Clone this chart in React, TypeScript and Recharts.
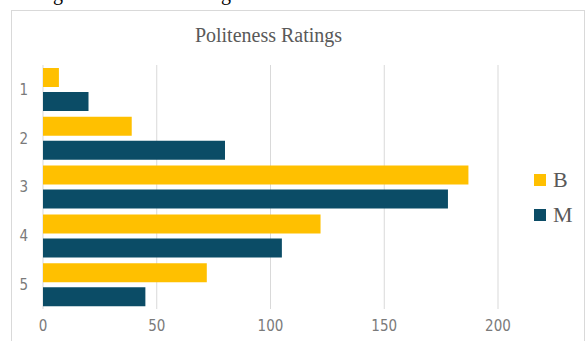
import React from "react";
import { Bar, BarChart, CartesianGrid, XAxis, YAxis } from "recharts";

const ratings = ["1", "2", "3", "4", "5"];
const bValues = [7, 39, 187, 122, 72];
const mValues = [20, 80, 178, 105, 45];
const xTicks = [0, 50, 100, 150, 200];

const series = [
  { key: "B", color: "#FFC000" },
  { key: "M", color: "#0B4C66" },
];

const data = ratings.map((r, i) => ({ rating: r, B: bValues[i], M: mValues[i] }));

const tickFont = "'Liberation Sans Narrow', 'DejaVu Sans Condensed', Roboto, sans-serif";
const serif = "'Liberation Serif', 'DejaVu Serif', serif";

export default function App() {
  return (
    <div
      style={{
        position: "fixed",
        left: 0,
        top: 0,
        width: 585,
        height: 341,
        overflow: "hidden",
        background: "#fff",
      }}
    >
      {/* tail of the paragraph line above the figure */}
      <div style={{ position: "absolute", top: -18, left: 53, fontFamily: serif, fontSize: 20, color: "#000" }}>g</div>
      <div style={{ position: "absolute", top: -18, left: 221, fontFamily: serif, fontSize: 20, color: "#000" }}>g</div>

      <div
        style={{
          position: "absolute",
          left: 11,
          top: 10,
          width: 572,
          height: 340,
          border: "1px solid #d9d9d9",
        }}
      />
      <div
        style={{
          position: "absolute",
          left: 0,
          width: 537,
          top: 24,
          textAlign: "center",
          fontFamily: serif,
          fontSize: 20,
          color: "#595959",
        }}
      >
        Politeness Ratings
      </div>

      <div style={{ position: "absolute", left: 0, top: 0 }}>
        <BarChart
          width={585}
          height={341}
          data={data}
          layout="vertical"
          margin={{ top: 65, right: 87, bottom: 2, left: 0 }}
          barCategoryGap={3}
          barGap={5}
        >
          <CartesianGrid horizontal={false} stroke="#d9d9d9" />
          <XAxis
            type="number"
            domain={[0, 200]}
            ticks={xTicks}
            axisLine={false}
            tickLine={false}
            tickSize={0}
            tickMargin={11}
            height={30}
            tick={{ fill: "#7a7a7a", fontSize: 15, fontFamily: tickFont }}
          />
          <YAxis
            type="category"
            dataKey="rating"
            width={43}
            axisLine={false}
            tickLine={false}
            tickSize={0}
            tickMargin={15}
            tick={{ fill: "#7a7a7a", fontSize: 15, fontFamily: tickFont }}
          />
          {series.map((s) => (
            <Bar key={s.key} dataKey={s.key} fill={s.color} isAnimationActive={false} />
          ))}
        </BarChart>
      </div>

      <div style={{ position: "absolute", left: 534, top: 162 }}>
        {series.map((s) => (
          <div key={s.key} style={{ display: "flex", alignItems: "center", height: 35 }}>
            <span style={{ width: 12, height: 12, background: s.color, marginRight: 7 }} />
            <span style={{ fontFamily: serif, fontSize: 22, color: "#595959" }}>{s.key}</span>
          </div>
        ))}
      </div>
    </div>
  );
}
